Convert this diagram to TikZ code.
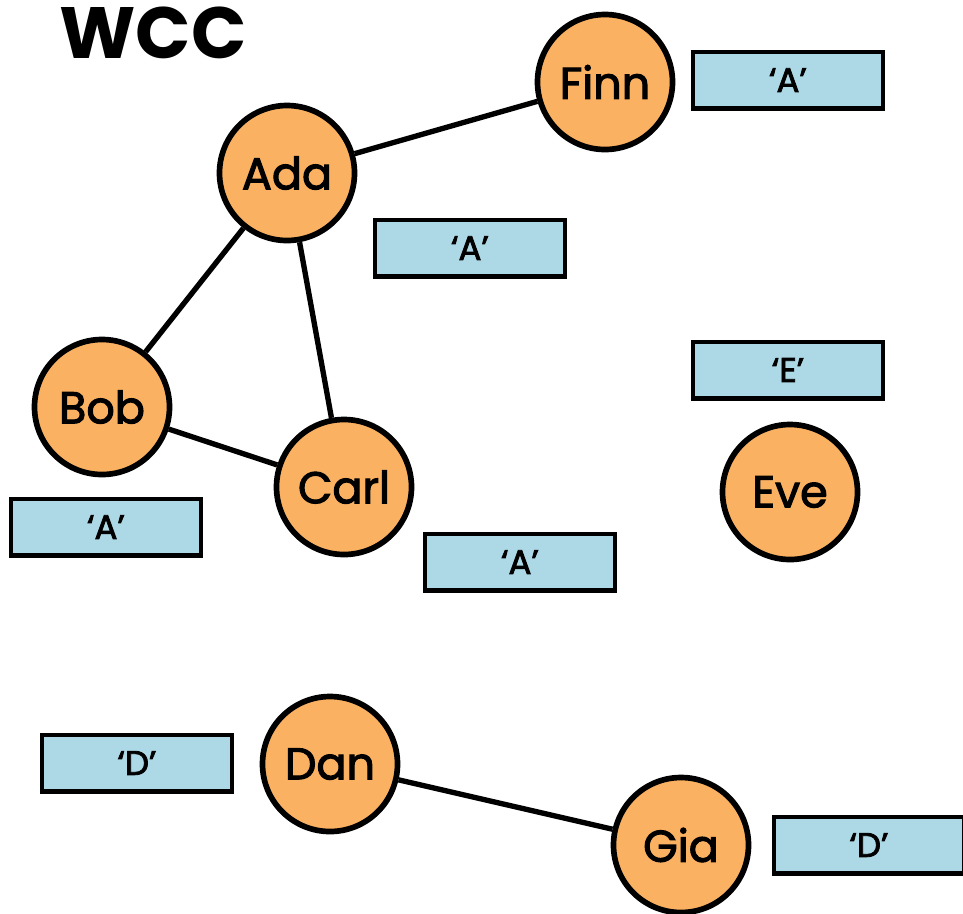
\documentclass[tikz,border=0pt]{standalone}
\usepackage{fontspec}
\setmainfont{Poppins}
\newfontfamily\medfont{Poppins}[FakeBold=2.4]
\usepackage{xcolor}
\definecolor{nodeorange}{HTML}{FBB162}
\definecolor{tagblue}{HTML}{ADD8E6}

\begin{document}
\begin{tikzpicture}[x=0.03cm, y=-0.03cm]
        % ================= 样式定义 =================
        \tikzset{
            % 顶点:橙底黑边圆圈
            vnode/.style={circle, draw=black, line width=0.17cm, fill=nodeorange, minimum size=4.05cm, inner sep=0pt, font=\medfont\fontsize{38}{40}\selectfont},
            % 标签:浅蓝矩形
            tag/.style={rectangle, draw=black, line width=0.13cm, fill=tagblue, minimum width=5.7cm, minimum height=1.7cm, inner sep=0pt, font=\medfont\fontsize{29}{31}\selectfont},
            % 连边样式
            edge/.style={line width=0.16cm, black}
        }

        % 画布范围
        \useasboundingbox (0,0) rectangle (963,913);

        % ================= 标题 =================
        \node[anchor=west, inner sep=0pt, font=\fontsize{62}{66}\selectfont\bfseries] (title) at (59,33) {WCC};

        % ================= 顶点位置 =================
        \node[vnode] (finn) at (605,82) {Finn};
        \node[vnode] (ada) at (287,173) {Ada};
        \node[vnode] (bob) at (102,407) {Bob};
        \node[vnode] (carl) at (344,487) {Carl};
        \node[vnode] (eve) at (790,492) {Eve};
        \node[vnode] (dan) at (330,764) {Dan};
        \node[vnode] (gia) at (681,845) {Gia};

        % ================= 分量标签 =================
        \node[tag] (finnTag) at (788,80) {‘A’};
        \node[tag] (adaTag) at (470,248) {‘A’};
        \node[tag] (eveTag) at (788,370) {‘E’};
        \node[tag] (bobTag) at (106,527) {‘A’};
        \node[tag] (carlTag) at (520,562) {‘A’};
        \node[tag] (danTag) at (137,763) {‘D’};
        \node[tag] (giaTag) at (869,845) {‘D’};

        % ================= 连边 =================
        % 1. 第一个分量
        \draw[edge] (ada) -- (finn);
        \draw[edge] (ada) -- (bob);
        \draw[edge] (ada) -- (carl);
        \draw[edge] (bob) -- (carl);

        % 2. 第二个分量
        \draw[edge] (dan) -- (gia);

    \end{tikzpicture}
\end{document}
